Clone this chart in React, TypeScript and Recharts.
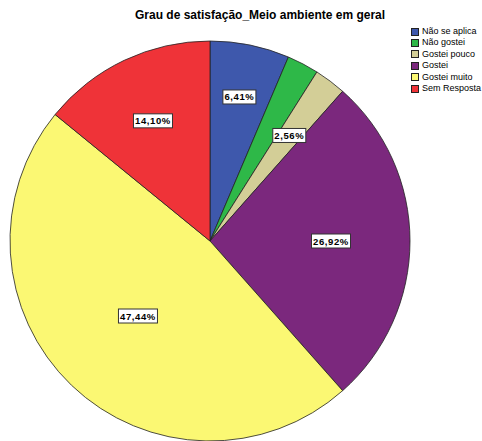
import { Pie, PieChart, Cell, Legend } from 'recharts';

const categories = ['Não se aplica', 'Não gostei', 'Gostei pouco', 'Gostei', 'Gostei muito', 'Sem Resposta'];
const counts = [5, 2, 2, 21, 37, 11];
const percentLabels = ['6,41%', '2,56%', '2,56%', '26,92%', '47,44%', '14,10%'];
const colors = ['#3E58AC', '#2EB848', '#D3CE97', '#7B287D', '#FBF873', '#EF3338'];
// distance of each label from the centre; null = hidden (overlaps in the original)
const labelRadius = [147, null, 132, 121, 104, 133];

const data = categories.map((name, i) => ({ name, value: counts[i], label: percentLabels[i] }));

const RADIAN = Math.PI / 180;

const renderLabel = (props: any) => {
  const { cx, cy, midAngle, index } = props;
  const r = labelRadius[index];
  if (r == null) return null;
  const x = cx + r * Math.cos(-midAngle * RADIAN);
  const y = cy + r * Math.sin(-midAngle * RADIAN);
  const text = percentLabels[index];
  const w = text.length * 6 + 3;
  return (
    <g>
      <rect x={x - w / 2} y={y - 7} width={w} height={14} fill='#fff' stroke='#333' strokeWidth={1} />
      <text
        x={x}
        y={y + 3.5}
        textAnchor='middle'
        fontFamily='Liberation Sans, Arial, sans-serif'
        fontSize={9.5}
        fontWeight='bold'
        letterSpacing={0.6}
        fill='#000'
      >
        {text}
      </text>
    </g>
  );
};

const renderLegend = () => (
  <div style={{ fontFamily: 'Liberation Sans, Arial, sans-serif', fontSize: 9, lineHeight: '11.4px' }}>
    {categories.map((c, i) => (
      <div key={c} style={{ display: 'flex', alignItems: 'center', height: 11.4, whiteSpace: 'nowrap' }}>
        <span
          style={{
            display: 'inline-block',
            flex: 'none',
            width: 6,
            height: 6,
            background: colors[i],
            border: '1px solid #222',
            marginRight: 3,
          }}
        />
        <span>{c}</span>
      </div>
    ))}
  </div>
);

export default function App() {
  return (
    <div style={{ position: 'absolute', left: 0, top: 0, width: 482, height: 441, background: '#fff' }}>
      <div
        style={{
          position: 'absolute',
          left: 135,
          top: 8,
          fontFamily: 'Liberation Sans, Arial, sans-serif',
          fontSize: 12,
          fontWeight: 'bold',
          whiteSpace: 'nowrap',
          color: '#000',
        }}
      >
        Grau de satisfação_Meio ambiente em geral
      </div>
      <PieChart width={482} height={441} margin={{ top: 0, right: 0, bottom: 0, left: 0 }}>
        <Pie
          data={data}
          dataKey='value'
          nameKey='name'
          cx={210}
          cy={241}
          outerRadius={200}
          startAngle={90}
          endAngle={-270}
          stroke='#222'
          strokeWidth={0.8}
          label={renderLabel}
          labelLine={false}
          isAnimationActive={false}
        >
          {data.map((d, i) => (
            <Cell key={d.name} fill={colors[i]} />
          ))}
        </Pie>
        <Legend
          layout='vertical'
          verticalAlign='top'
          align='right'
          content={renderLegend}
          wrapperStyle={{ left: 411, top: 26, width: 71, overflow: 'visible' }}
        />
      </PieChart>
    </div>
  );
}
